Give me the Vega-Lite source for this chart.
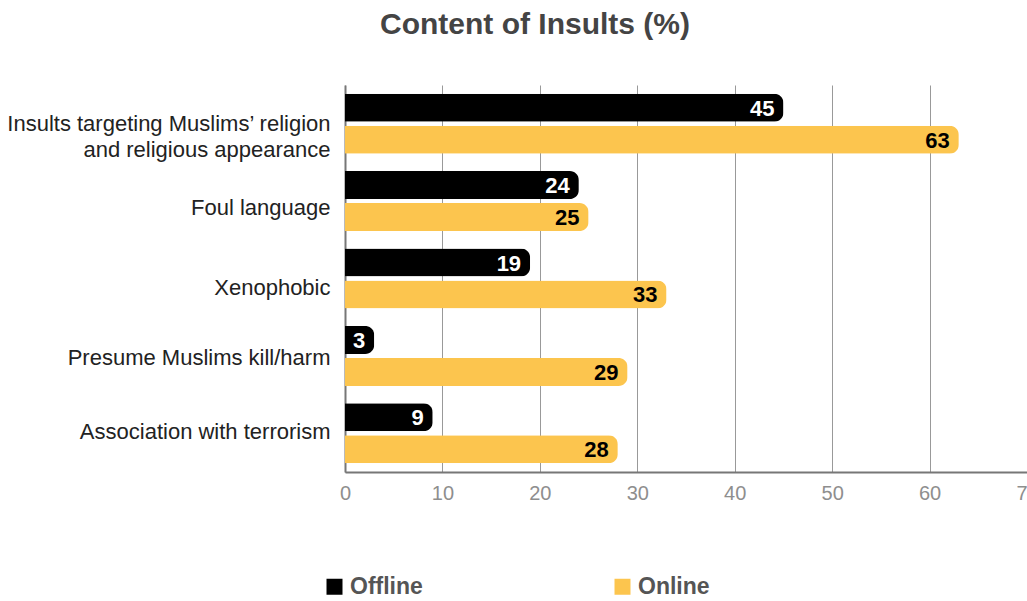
{
  "$schema": "https://vega.github.io/schema/vega-lite/v6.json",
  "autosize": {"type": "none"},
  "width": 682,
  "height": 387,
  "padding": {"left": 345, "top": 85, "right": 0, "bottom": 129},
  "background": "white",
  "config": {"view": {"stroke": null}},
  "title": {
    "text": "Content of Insults (%)",
    "anchor": "middle",
    "dx": -151,
    "offset": 45,
    "font": "Liberation Sans",
    "fontSize": 30,
    "fontWeight": "bold",
    "color": "#444444"
  },
  "data": {
    "values": [
      {"category": "Insults targeting Muslims’ religion and religious appearance", "series": "Offline", "value": 45},
      {"category": "Insults targeting Muslims’ religion and religious appearance", "series": "Online", "value": 63},
      {"category": "Foul language", "series": "Offline", "value": 24},
      {"category": "Foul language", "series": "Online", "value": 25},
      {"category": "Xenophobic", "series": "Offline", "value": 19},
      {"category": "Xenophobic", "series": "Online", "value": 33},
      {"category": "Presume Muslims kill/harm", "series": "Offline", "value": 3},
      {"category": "Presume Muslims kill/harm", "series": "Online", "value": 29},
      {"category": "Association with terrorism", "series": "Offline", "value": 9},
      {"category": "Association with terrorism", "series": "Online", "value": 28}
    ]
  },
  "encoding": {
    "y": {
      "field": "category",
      "type": "nominal",
      "sort": null,
      "title": null,
      "scale": {"paddingInner": 0.225, "paddingOuter": 0.1125},
      "axis": {
        "ticks": false,
        "domain": true,
        "domainColor": "#777777",
        "domainWidth": 2,
        "labelFont": "Liberation Sans",
        "labelFontSize": 22,
        "labelColor": "#222222",
        "labelPadding": 15,
        "labelLimit": 400,
        "labelLineHeight": 26,
        "labelExpr": "datum.label == 'Insults targeting Muslims’ religion and religious appearance' ? ['Insults targeting Muslims’ religion', 'and religious appearance'] : datum.label",
        "labelOffset": {
          "condition": [
            {"test": "datum.value == 'Foul language'", "value": 7},
            {"test": "datum.value == 'Xenophobic'", "value": 9},
            {"test": "datum.value == 'Presume Muslims kill/harm'", "value": 2},
            {"test": "datum.value == 'Association with terrorism'", "value": -1}
          ],
          "value": 0
        }
      }
    },
    "yOffset": {
      "field": "series",
      "type": "nominal",
      "sort": ["Offline", "Online"],
      "scale": {"paddingInner": 0.125, "paddingOuter": 0}
    },
    "x": {
      "field": "value",
      "type": "quantitative",
      "title": null,
      "scale": {"domain": [0, 70], "nice": false},
      "axis": {
        "values": [0, 10, 20, 30, 40, 50, 60, 70],
        "grid": true,
        "gridColor": "#999999",
        "gridWidth": 1,
        "ticks": false,
        "domain": true,
        "domainColor": "#777777",
        "domainWidth": 2,
        "labelFont": "Liberation Sans",
        "labelFontSize": 20,
        "labelColor": "#8e8e8e",
        "labelPadding": 11,
        "labelDx": -8,
        "labelFlush": false
      }
    }
  },
  "layer": [
    {
      "mark": {"type": "bar", "cornerRadiusEnd": 9},
      "encoding": {
        "color": {
          "field": "series",
          "type": "nominal",
          "sort": ["Offline", "Online"],
          "scale": {"domain": ["Offline", "Online"], "range": ["#000000", "#FCC54E"]},
          "legend": {
            "title": null,
            "orient": "none",
            "legendX": -22,
            "legendY": 490,
            "direction": "horizontal",
            "symbolType": "square",
            "symbolSize": 256,
            "symbolStrokeWidth": 0,
            "labelFont": "Liberation Sans",
            "labelFontSize": 23,
            "labelFontWeight": "bold",
            "labelColor": "#555555",
            "labelOffset": 4,
            "columnPadding": 188
          }
        }
      }
    },
    {
      "mark": {
        "type": "text",
        "align": "right",
        "baseline": "middle",
        "dx": -9,
        "dy": 1,
        "font": "Liberation Sans",
        "fontSize": 22,
        "fontWeight": "bold"
      },
      "encoding": {
        "text": {"field": "value", "type": "quantitative"},
        "color": {
          "condition": {"test": "datum.series == 'Offline'", "value": "#ffffff"},
          "value": "#000000"
        }
      }
    }
  ]
}
